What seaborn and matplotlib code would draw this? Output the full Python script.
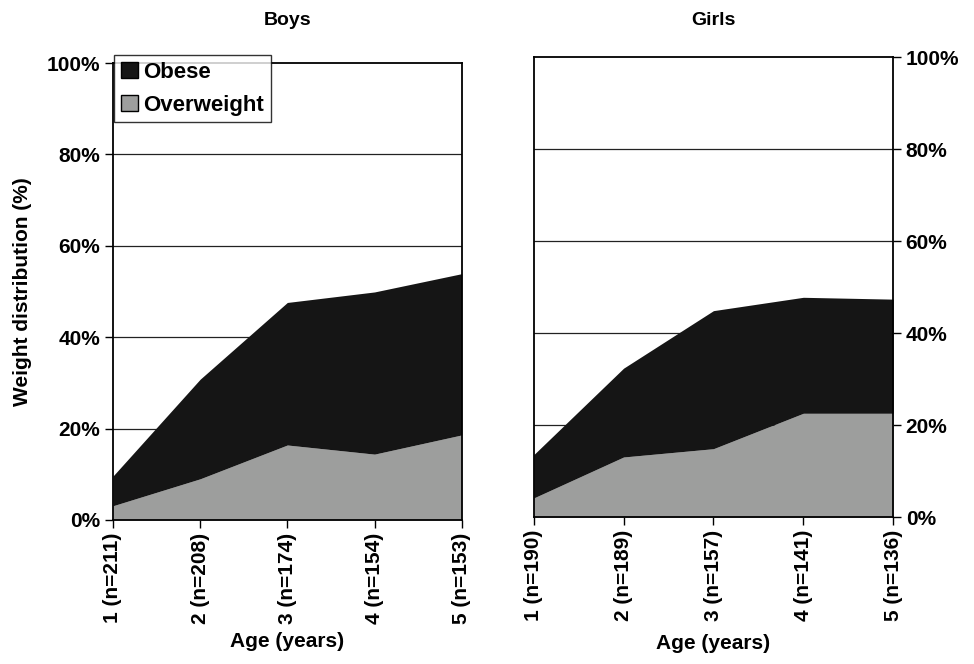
import matplotlib
matplotlib.use("Agg")
import matplotlib.pyplot as plt
import seaborn as sns
from matplotlib.patches import Patch
from matplotlib.ticker import PercentFormatter

# ── Data (percent) ────────────────────────────────────────────────────────────
ages = [1, 2, 3, 4, 5]
boys_labels = ["1 (n=211)", "2 (n=208)", "3 (n=174)", "4 (n=154)", "5 (n=153)"]
girls_labels = ["1 (n=190)", "2 (n=189)", "3 (n=157)", "4 (n=141)", "5 (n=136)"]

boys_overweight = [3.1, 9.0, 16.4, 14.4, 18.6]
boys_obese = [6.5, 21.8, 31.2, 35.5, 35.3]
girls_overweight = [4.2, 13.1, 14.9, 22.6, 22.6]
girls_obese = [9.4, 19.3, 30.0, 25.2, 24.8]

GRAY = "#9d9e9d"
BLACK = "#151515"
FS = 15

sns.set_theme(style="white")
plt.rcParams["font.family"] = ["Liberation Sans", "DejaVu Sans"]
plt.rcParams.update({
    "font.weight": "bold",
    "text.color": "black",
    "axes.labelcolor": "black",
    "xtick.color": "black",
    "ytick.color": "black",
    "xtick.labelsize": FS,
    "ytick.labelsize": FS,
})

fig = plt.figure(figsize=(9.74, 6.64), dpi=100)
ax_b = fig.add_axes([0.116, 0.217, 0.358, 0.688])
ax_g = fig.add_axes([0.548, 0.221, 0.369, 0.693])


def draw(ax, overweight, obese, labels, title, title_y):
    total = [a + b for a, b in zip(overweight, obese)]
    ax.fill_between(ages, 0, overweight, color=GRAY, lw=0, zorder=2)
    ax.fill_between(ages, overweight, total, color=BLACK, lw=0, zorder=2)
    for v in (20, 40, 60, 80):
        ax.axhline(v, color="#222222", lw=0.9, zorder=1)
    ax.set_xlim(1, 5)
    ax.set_ylim(0, 100)
    ax.set_yticks([0, 20, 40, 60, 80, 100])
    ax.yaxis.set_major_formatter(PercentFormatter(decimals=0))
    ax.set_xticks(ages)
    ax.set_xticklabels(labels, rotation=90, fontweight="bold")
    ax.tick_params(axis="both", direction="out", length=6, width=1,
                   color="black", pad=3)
    for sp in ax.spines.values():
        sp.set_visible(True)
        sp.set_color("black")
        sp.set_linewidth(1.3)
        sp.set_zorder(3)
    ax.set_xlabel("Age (years)", fontsize=FS, fontweight="bold", labelpad=6)
    ax.set_title(title, fontsize=14, fontweight="bold", y=title_y, pad=0,
                 va="center")


draw(ax_b, boys_overweight, boys_obese, boys_labels, "Boys", 1.094)
ax_b.tick_params(axis="y", left=True, right=False)
ax_b.tick_params(axis="x", bottom=True)
ax_b.set_ylabel("Weight distribution (%)", fontsize=FS, fontweight="bold",
                labelpad=11)

draw(ax_g, girls_overweight, girls_obese, girls_labels, "Girls", 1.080)
ax_g.yaxis.tick_right()
ax_g.tick_params(axis="y", left=False, right=True, direction="out",
                 length=6, width=1)
ax_g.tick_params(axis="x", bottom=True)
ax_g.xaxis.labelpad = 9

for ax in (ax_b, ax_g):
    for lab in ax.get_yticklabels() + ax.get_xticklabels():
        lab.set_fontweight("bold")

handles = [Patch(facecolor=BLACK, edgecolor="black", label="Obese"),
           Patch(facecolor=GRAY, edgecolor="black", label="Overweight")]
leg = ax_b.legend(handles=handles, loc="upper left",
                  bbox_to_anchor=(0.004, 1.018), frameon=True, fancybox=False,
                  prop={"weight": "bold", "size": 16}, handlelength=0.75,
                  handleheight=0.75, handletextpad=0.25, borderpad=0.3,
                  labelspacing=0.55, borderaxespad=0)
leg.get_frame().set_edgecolor("black")
leg.get_frame().set_linewidth(1.0)
leg.set_zorder(5)

fig.savefig("out.png", dpi=100)
